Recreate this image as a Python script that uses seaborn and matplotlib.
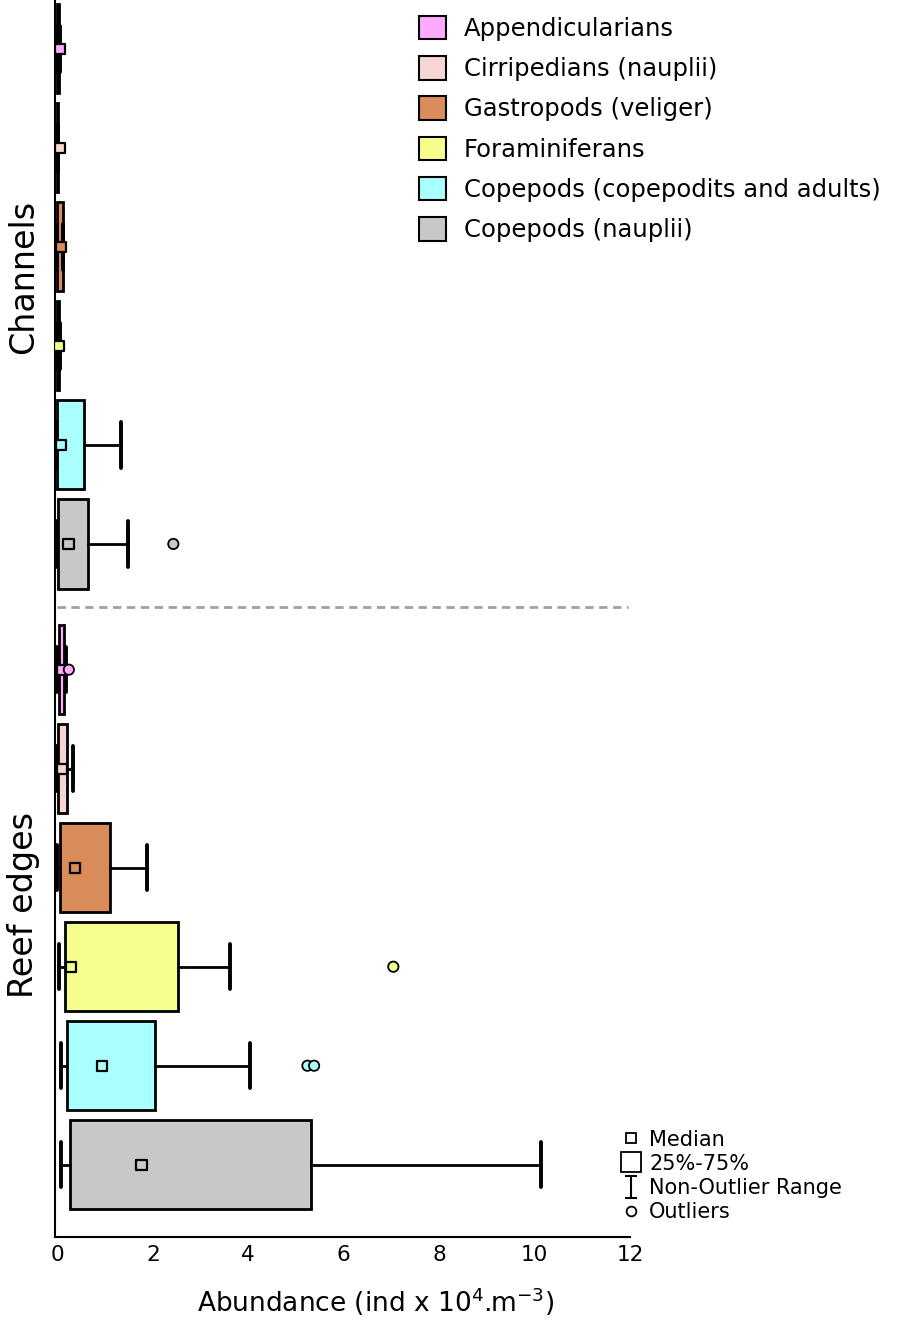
#!/usr/bin/env python3
"""Box plots of zooplankton abundance in channels and reef edges."""

import matplotlib
matplotlib.use("Agg")
import matplotlib.pyplot as plt
import seaborn as sns
import pandas as pd
import numpy as np
from matplotlib.patches import Patch
from matplotlib.lines import Line2D
from matplotlib.path import Path

# Data (units: ind x 10^4 m^-3)
taxa = ["Appendicularians", "Cirripedians (nauplii)", "Gastropods (veliger)",
        "Foraminiferans", "Copepods (copepodits and adults)", "Copepods (nauplii)"]
sites = ["Channels", "Reef edges"]
colors = ["#ffaaff", "#f6d6d2", "#d98b5a", "#f4ff8c", "#aaffff", "#c8c8c8"]

ch_med = [0.06, 0.05, 0.08, 0.04, 0.08, 0.23]
ch_q1 = [0.0, 0.0, 0.0, 0.0, 0.0, 0.02]
ch_q3 = [0.04, 0.01, 0.11, 0.04, 0.55, 0.65]
ch_lo = [0.0, 0.0, 0.0, 0.0, 0.0, 0.0]
ch_hi = [0.06, 0.02, 0.11, 0.06, 1.34, 1.49]
ch_out = [[], [], [], [], [], [2.43]]

re_med = [0.09, 0.10, 0.37, 0.29, 0.94, 1.76]
re_q1 = [0.03, 0.02, 0.06, 0.15, 0.21, 0.27]
re_q3 = [0.13, 0.21, 1.11, 2.53, 2.05, 5.32]
re_lo = [0.0, 0.0, 0.0, 0.04, 0.08, 0.08]
re_hi = [0.18, 0.33, 1.88, 3.62, 4.04, 10.14]
re_out = [[0.24], [], [], [7.04], [5.24, 5.38], []]

sns.set_theme(style="white")
plt.rcParams["font.family"] = ["DejaVu Sans"]
plt.rcParams["text.color"] = "black"
plt.rcParams["axes.labelcolor"] = "black"

fig = plt.figure(figsize=(8.98, 13.2), dpi=100)
ax = fig.add_axes([55 / 898, 1 - 1237 / 1320, (630 - 55) / 898, 1237 / 1320])

# positions: channels 0..5, reef edges shifted by an extra gap
gap = 1.27
pos = list(np.arange(6)) + list(np.arange(6) + 5 + gap)
meds = ch_med + re_med
q1s = ch_q1 + re_q1
q3s = ch_q3 + re_q3
los = ch_lo + re_lo
his = ch_hi + re_hi
outs = ch_out + re_out
cols = colors + colors

stats = [dict(med=m, q1=a, q3=b, whislo=lo, whishi=hi, fliers=[])
         for m, a, b, lo, hi in zip(meds, q1s, q3s, los, his)]

bp = ax.bxp(stats, positions=pos, vert=False, widths=0.9, capwidths=0.46,
            patch_artist=True, showfliers=False,
            boxprops=dict(edgecolor="black", linewidth=2),
            whiskerprops=dict(color="black", linewidth=2),
            capprops=dict(color="black", linewidth=2.8),
            medianprops=dict(linewidth=0))
for box, c in zip(bp["boxes"], cols):
    box.set_facecolor(c)

# medians as small squares, outliers as circles
df_med = pd.DataFrame({"value": meds, "pos": pos, "taxon": taxa + taxa})
sns.scatterplot(data=df_med, x="value", y="pos", hue="taxon", palette=colors,
                hue_order=taxa, marker="s", s=55, edgecolor="black",
                linewidth=1.6, legend=False, zorder=4, ax=ax)

out_rows = [(v, p, t) for vals, p, t in zip(outs, pos, taxa + taxa) for v in vals]
df_out = pd.DataFrame(out_rows, columns=["value", "pos", "taxon"])
sns.scatterplot(data=df_out, x="value", y="pos", hue="taxon", palette=colors,
                hue_order=taxa, marker="o", s=55, edgecolor="black",
                linewidth=1.3, legend=False, zorder=4, ax=ax)

ax.axhline(5 + gap / 2, xmin=0.003, xmax=0.996, color="#a0a0a0", lw=2, ls=(0, (3, 2)))

ax.set_xlim(-0.05, 12)
ax.set_ylim(12.0, -0.494)
ax.set_yticks([])
ax.set_xticks(range(0, 13, 2))
ax.set_xticklabels([str(v) for v in range(0, 13, 2)], fontsize=15.5)
ax.tick_params(axis="x", length=0, pad=6, colors="black")
ax.set_xlabel("Abundance (ind x 10$^{4}$.m$^{-3}$)", fontsize=19)
ax.xaxis.set_label_coords(0.557, -0.039)
ax.set_ylabel("")
for s in ["top", "right"]:
    ax.spines[s].set_visible(False)
for s in ["left", "bottom"]:
    ax.spines[s].set_color("black")
    ax.spines[s].set_linewidth(1.5)

ax.text(-0.055, 2.3, sites[0], transform=ax.get_yaxis_transform(), rotation=90,
        ha="center", va="center", fontsize=24)
ax.text(-0.055, 8.65, sites[1], transform=ax.get_yaxis_transform(), rotation=90,
        ha="center", va="center", fontsize=24)

# taxa legend
handles = [Patch(facecolor=c, edgecolor="black", linewidth=1.5) for c in colors]
fig.legend(handles, taxa, loc="upper left", bbox_to_anchor=(419 / 898, 1 - 16 / 1320),
           frameon=False, fontsize=17.5, handlelength=1.1, handleheight=1.1,
           labelspacing=0.63, handletextpad=0.75, borderaxespad=0, borderpad=0)

# box plot key
ibeam = Path([(-0.5, 1), (0.5, 1), (0, 1), (0, -1), (-0.5, -1), (0.5, -1)],
             [Path.MOVETO, Path.LINETO, Path.MOVETO, Path.LINETO, Path.MOVETO, Path.LINETO])
key = [
    Line2D([], [], ls="none", marker="s", ms=7, mfc="white", mec="black", mew=1.3),
    Line2D([], [], ls="none", marker="s", ms=14, mfc="white", mec="black", mew=1.3),
    Line2D([], [], ls="none", marker=ibeam, ms=16, mec="black", mew=1.5),
    Line2D([], [], ls="none", marker="o", ms=7, mfc="white", mec="black", mew=1.3),
]
fig.legend(key, ["Median", "25%-75%", "Non-Outlier Range", "Outliers"],
           loc="lower left", bbox_to_anchor=(621 / 898, 1 - 1222 / 1320),
           frameon=False, fontsize=15, handlelength=1.0, handletextpad=0.35,
           labelspacing=0.2, borderaxespad=0, borderpad=0)

plt.savefig("out.png", dpi=100)
plt.close()
